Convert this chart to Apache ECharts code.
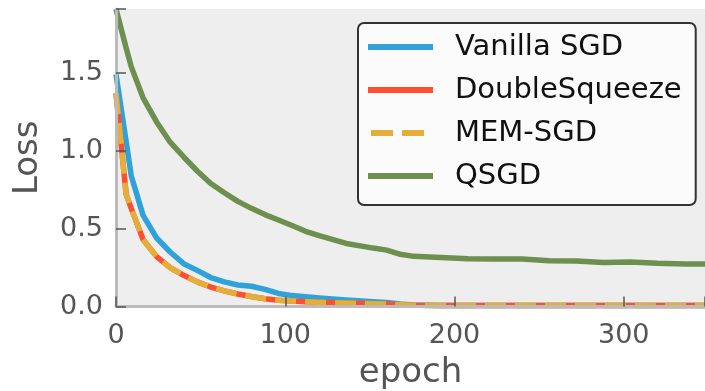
<!DOCTYPE html>
<html>
<head>
<meta charset="utf-8">
<script src="https://cdn.jsdelivr.net/npm/echarts@6/dist/echarts.min.js"></script>
<style>html,body{margin:0;padding:0;background:#fff;}#c{width:705px;height:391px;}</style>
</head>
<body>
<div id="c"></div>
<script>
const epochs = [0, 6, 9, 16, 24, 32, 40, 48, 56, 64, 72, 80, 88, 96, 104, 112, 120, 136, 152, 160, 168, 176, 192, 208, 224, 240, 256, 272, 288, 304, 320, 336, 348];
const vanillaSGD = [1.49, 1.06, 0.84, 0.585, 0.44, 0.35, 0.275, 0.232, 0.186, 0.158, 0.138, 0.13, 0.11, 0.084, 0.07, 0.062, 0.055, 0.042, 0.03, 0.025, 0.016, 0.01, 0.007, 0.007, 0.007, 0.007, 0.007, 0.007, 0.007, 0.007, 0.007, 0.007, 0.007];
const doubleSqueeze = [1.37, 0.72, 0.63, 0.43, 0.32, 0.25, 0.2, 0.158, 0.125, 0.1, 0.08, 0.064, 0.05, 0.04, 0.035, 0.031, 0.028, 0.022, 0.018, 0.016, 0.012, 0.008, 0.006, 0.006, 0.006, 0.006, 0.006, 0.006, 0.006, 0.006, 0.006, 0.006, 0.006];
const memSGD = [1.37, 0.72, 0.63, 0.43, 0.32, 0.25, 0.2, 0.158, 0.125, 0.1, 0.08, 0.064, 0.05, 0.04, 0.035, 0.031, 0.028, 0.022, 0.018, 0.016, 0.012, 0.008, 0.006, 0.006, 0.006, 0.006, 0.006, 0.006, 0.006, 0.006, 0.006, 0.006, 0.006];
const qsgd = [1.91, 1.66, 1.54, 1.34, 1.185, 1.055, 0.96, 0.87, 0.79, 0.73, 0.675, 0.63, 0.59, 0.555, 0.52, 0.483, 0.455, 0.405, 0.375, 0.362, 0.335, 0.322, 0.314, 0.306, 0.305, 0.305, 0.293, 0.292, 0.282, 0.285, 0.277, 0.273, 0.273];
const seriesNames = ['Vanilla SGD', 'DoubleSqueeze', 'MEM-SGD', 'QSGD'];
const colors = ['#30a2da', '#fc4f30', '#e5ae38', '#6d904f'];
const xTicks = [0, 100, 200, 300];
const yTicks = [0.0, 0.5, 1.0, 1.5];

const font = 'DejaVu Sans';
function pairs(ys) { return epochs.map((e, i) => [e, ys[i]]); }
const allY = [vanillaSGD, doubleSqueeze, memSGD, qsgd];
const solidIcon = 'path://M0,0H65V6H0Z';
const dashedIcon = 'path://M0,0M65,6M3,0H25V6H3ZM34,0H56V6H34Z';

const chart = echarts.init(document.getElementById('c'), null, {renderer: 'canvas'});
chart.setOption({
  animation: false,
  backgroundColor: '#ffffff',
  grid: {left: 116, right: 0, top: 9, bottom: 84.5, show: true, backgroundColor: '#eeeeee', borderWidth: 0,
    containLabel: false, outerBoundsMode: 'none'},
  legend: {
    orient: 'vertical', left: 358, top: 23,
    itemWidth: 65, itemHeight: 6, itemGap: 13,
    padding: [9, 14, 14, 10],
    backgroundColor: '#fbfbfb', borderColor: '#333333', borderWidth: 2, borderRadius: 6,
    textStyle: {fontSize: 29, color: '#111', fontFamily: font, padding: [0, 0, 0, 17], lineHeight: 30},
    data: seriesNames.map((n, i) => ({name: n, icon: i === 2 ? dashedIcon : solidIcon}))
  },
  xAxis: {
    type: 'value', min: 0, max: 348, interval: 100, z: 3,
    name: 'epoch', nameLocation: 'middle', nameGap: 50,
    nameTextStyle: {fontSize: 34, color: '#555555', fontFamily: font},
    axisLine: {show: true, onZero: false, lineStyle: {color: '#bbbbbb', width: 3}},
    axisTick: {show: true, inside: true, length: 10, lineStyle: {color: '#555555', width: 1.5}},
    axisLabel: {fontSize: 27, color: '#555555', fontFamily: font, margin: 16,
      formatter: v => xTicks.includes(v) ? String(v) : ''},
    splitLine: {show: false}
  },
  yAxis: {
    type: 'value', min: 0, max: 1.91, interval: 0.5, z: 3,
    name: 'Loss', nameLocation: 'middle', nameGap: 71,
    nameTextStyle: {fontSize: 34, color: '#555555', fontFamily: font},
    axisLine: {show: true, onZero: false, lineStyle: {color: '#bbbbbb', width: 3}},
    axisTick: {show: true, inside: true, length: 10, lineStyle: {color: '#555555', width: 1.5}},
    axisLabel: {fontSize: 27, color: '#555555', fontFamily: font, margin: 13,
      formatter: v => yTicks.some(t => Math.abs(t - v) < 1e-9) ? v.toFixed(1) : ''},
    splitLine: {show: false}
  },
  series: seriesNames.map((n, i) => ({
    name: n, type: 'line', data: pairs(allY[i]), symbol: 'none', showSymbol: false,
    color: colors[i], z: 2 + i * 0.01,
    lineStyle: {color: colors[i], width: 5.5, type: i === 2 ? [21, 9] : 'solid', cap: 'butt', join: 'round'}
  }))
});
</script>
</body>
</html>
